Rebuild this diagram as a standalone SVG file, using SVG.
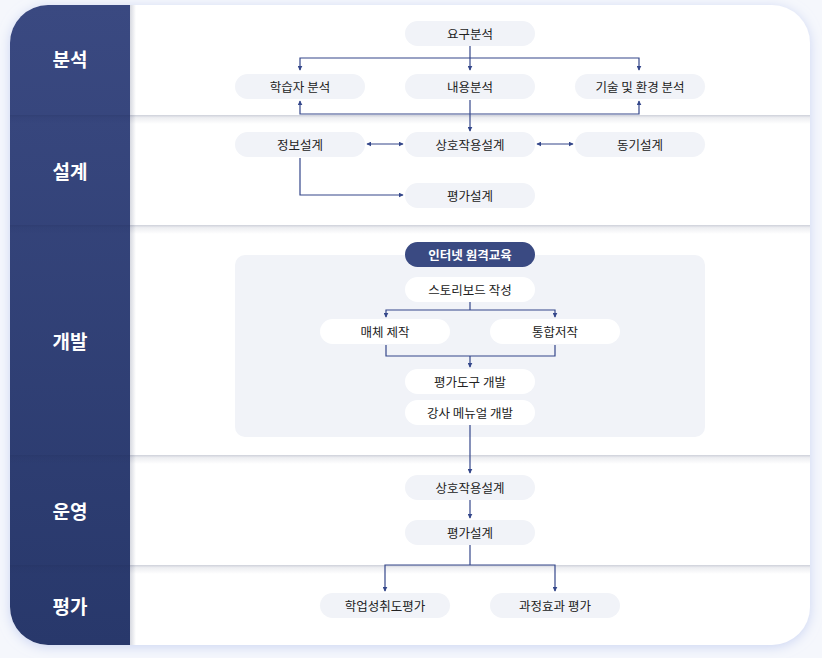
<svg xmlns="http://www.w3.org/2000/svg" width="822" height="658" viewBox="0 0 822 658">
<defs>
<style>
.node rect{fill:#f1f3f8}
.node text,.wnode text{font-family:"Noto Sans CJK KR","Noto Sans",sans-serif;font-size:12.5px;fill:#222;text-anchor:middle;dominant-baseline:central}
.wnode rect{fill:#ffffff}
.lane text{font-family:"Noto Sans CJK KR","Noto Sans",sans-serif;font-size:19px;font-weight:700;fill:#ffffff;text-anchor:middle;dominant-baseline:central}
.conn path{fill:none;stroke:#34478a;stroke-width:1.2}
</style>
<linearGradient id="side" x1="0" y1="0" x2="0" y2="1">
<stop offset="0" stop-color="#3a4981"/>
<stop offset="1" stop-color="#28386b"/>
</linearGradient>
<linearGradient id="sh" x1="0" y1="0" x2="0" y2="1">
<stop offset="0" stop-color="#1e2a55" stop-opacity="0.22"/>
<stop offset="0.3" stop-color="#1e2a55" stop-opacity="0.08"/>
<stop offset="1" stop-color="#1e2a55" stop-opacity="0"/>
</linearGradient>
<linearGradient id="shr" x1="0" y1="0" x2="1" y2="0">
<stop offset="0" stop-color="#1e2a55" stop-opacity="0.18"/>
<stop offset="1" stop-color="#1e2a55" stop-opacity="0"/>
</linearGradient>
<filter id="glow" x="-10%" y="-10%" width="120%" height="120%">
<feDropShadow dx="0" dy="2" stdDeviation="6" flood-color="#b9c6ee" flood-opacity="0.7"/>
</filter>
<clipPath id="panel">
<path d="M48 5 H772 A38 38 0 0 1 810 43 V607 A38 38 0 0 1 772 645 H48 A38 38 0 0 1 10 607 V43 A38 38 0 0 1 48 5 Z"/>
</clipPath>
<marker id="ah" viewBox="0 0 8 8" refX="7" refY="4" markerWidth="5" markerHeight="5" orient="auto-start-reverse" markerUnits="userSpaceOnUse">
<path d="M0 0 L8 4 L0 8 Z" fill="#34478a"/>
</marker>
</defs>
<rect width="822" height="658" fill="#f5f7fc"/>
<path d="M48 5 H772 A38 38 0 0 1 810 43 V607 A38 38 0 0 1 772 645 H48 A38 38 0 0 1 10 607 V43 A38 38 0 0 1 48 5 Z" fill="#ffffff" filter="url(#glow)"/>
<g clip-path="url(#panel)">
<rect x="10" y="5" width="120" height="640" fill="url(#side)"/>
<rect x="130" y="5" width="6" height="640" fill="url(#shr)"/>
<rect x="10" y="115" width="800" height="9" fill="url(#sh)"/>
<rect x="10" y="225" width="800" height="9" fill="url(#sh)"/>
<rect x="10" y="455" width="800" height="9" fill="url(#sh)"/>
<rect x="10" y="565" width="800" height="9" fill="url(#sh)"/>
</g>
<g id="lanes" class="lane">
<g id="lane-analysis"><text x="70" y="58">분석</text></g>
<g id="lane-design"><text x="70" y="170">설계</text></g>
<g id="lane-dev"><text x="70" y="340">개발</text></g>
<g id="lane-ops"><text x="70" y="510">운영</text></g>
<g id="lane-eval"><text x="70" y="605">평가</text></g>
</g>
<rect id="dev-box" x="235" y="255" width="470" height="182" rx="10" fill="#f1f3f8"/>
<g id="connectors" class="conn">
<path d="M470 46 V70" marker-end="url(#ah)"/>
<path d="M300 70 V58 H639 V70" marker-start="url(#ah)" marker-end="url(#ah)"/>
<path d="M300 101 V114 H639 V101" marker-start="url(#ah)" marker-end="url(#ah)"/>
<path d="M470 100 V131" marker-end="url(#ah)"/>
<path d="M367 144 H403" marker-start="url(#ah)" marker-end="url(#ah)"/>
<path d="M537 144 H573" marker-start="url(#ah)" marker-end="url(#ah)"/>
<path d="M300 158 V195 H403" marker-end="url(#ah)"/>
<path d="M470 302 V310"/>
<path d="M386 317 V310 H555 V317" marker-start="url(#ah)" marker-end="url(#ah)"/>
<path d="M386 345 V356 H555 V345"/>
<path d="M470 356 V367" marker-end="url(#ah)"/>
<path d="M470 425 V473" marker-end="url(#ah)"/>
<path d="M470 500 V518" marker-end="url(#ah)"/>
<path d="M470 545 V565"/>
<path d="M385 591 V565 H555 V591" marker-start="url(#ah)" marker-end="url(#ah)"/>
</g>
<g id="n-req" class="node"><rect x="405" y="21" width="130" height="25" rx="12.5"/><text x="470" y="33.5">요구분석</text></g>
<g id="n-learner" class="node"><rect x="235" y="74" width="130" height="25" rx="12.5"/><text x="300" y="86.5">학습자 분석</text></g>
<g id="n-content" class="node"><rect x="405" y="74" width="130" height="25" rx="12.5"/><text x="470" y="86.5">내용분석</text></g>
<g id="n-tech" class="node"><rect x="575" y="74" width="130" height="25" rx="12.5"/><text x="640" y="86.5">기술 및 환경 분석</text></g>
<g id="n-info" class="node"><rect x="235" y="132" width="130" height="25" rx="12.5"/><text x="300" y="144.5">정보설계</text></g>
<g id="n-inter" class="node"><rect x="405" y="132" width="130" height="25" rx="12.5"/><text x="470" y="144.5">상호작용설계</text></g>
<g id="n-motiv" class="node"><rect x="575" y="132" width="130" height="25" rx="12.5"/><text x="640" y="144.5">동기설계</text></g>
<g id="n-evald" class="node"><rect x="405" y="183" width="130" height="25" rx="12.5"/><text x="470" y="195.5">평가설계</text></g>
<g id="n-online"><rect x="405" y="242" width="130" height="25" rx="12.5" fill="#3a4a82"/><text x="470" y="254.5" font-family="Noto Sans CJK KR, Noto Sans, sans-serif" font-size="12.5" font-weight="700" fill="#ffffff" text-anchor="middle" dominant-baseline="central">인터넷 원격교육</text></g>
<g id="n-story" class="wnode"><rect x="405" y="277" width="130" height="25" rx="12.5"/><text x="470" y="289.5">스토리보드 작성</text></g>
<g id="n-media" class="wnode"><rect x="320" y="319" width="130" height="25" rx="12.5"/><text x="385" y="331.5">매체 제작</text></g>
<g id="n-auth" class="wnode"><rect x="490" y="319" width="130" height="25" rx="12.5"/><text x="555" y="331.5">통합저작</text></g>
<g id="n-tool" class="wnode"><rect x="405" y="369" width="130" height="25" rx="12.5"/><text x="470" y="381.5">평가도구 개발</text></g>
<g id="n-manual" class="wnode"><rect x="405" y="400" width="130" height="25" rx="12.5"/><text x="470" y="412.5">강사 메뉴얼 개발</text></g>
<g id="n-inter2" class="node"><rect x="405" y="475" width="130" height="25" rx="12.5"/><text x="470" y="487.5">상호작용설계</text></g>
<g id="n-evald2" class="node"><rect x="405" y="520" width="130" height="25" rx="12.5"/><text x="470" y="532.5">평가설계</text></g>
<g id="n-achieve" class="node"><rect x="320" y="593" width="130" height="25" rx="12.5"/><text x="385" y="605.5">학업성취도평가</text></g>
<g id="n-process" class="node"><rect x="490" y="593" width="130" height="25" rx="12.5"/><text x="555" y="605.5">과정효과 평가</text></g>
</svg>
